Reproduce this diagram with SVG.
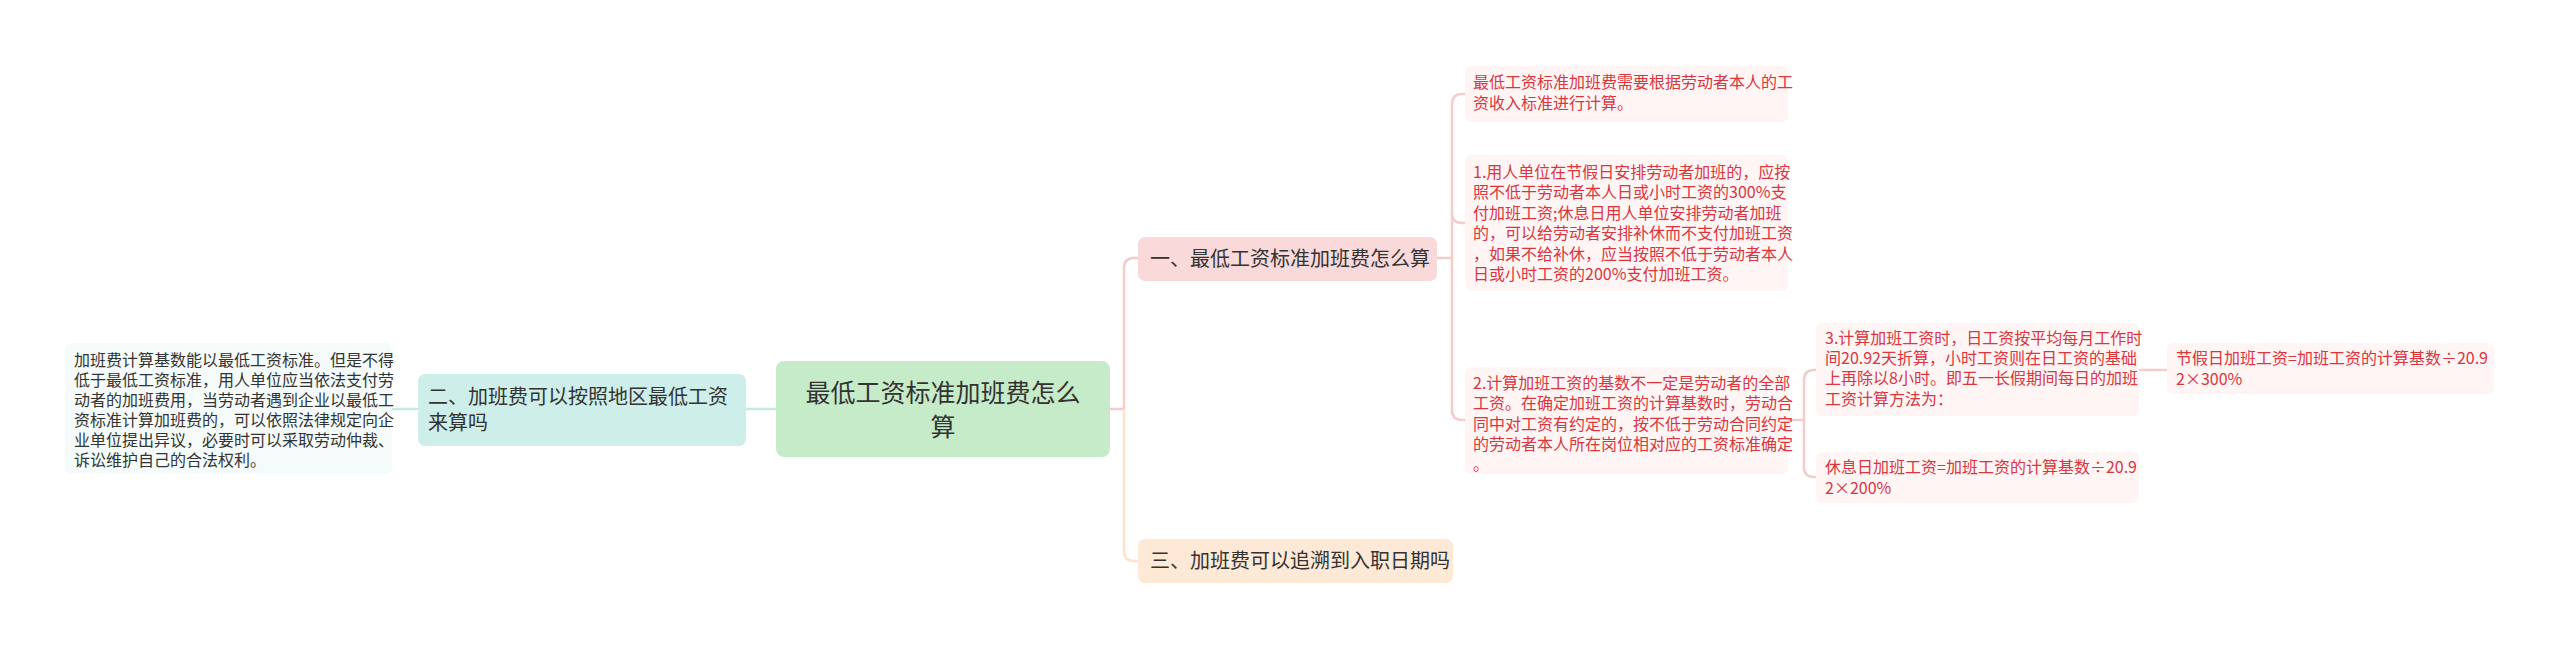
<svg xmlns="http://www.w3.org/2000/svg" width="2560" height="650" viewBox="0 0 2560 650">
<style>
text{font-family:"Noto Sans CJK SC","Liberation Sans",sans-serif;}
.r{fill:#d9363e;font-size:16px;}
.k{fill:#333;font-size:16px;}
.c{fill:none;stroke-width:2.5;}
</style>
<rect width="2560" height="650" fill="#fff"/>
<g id="connectors">
<path class="c" stroke="#f5cccc" d="M1110 409 H1124 V268 Q1124 258 1134 258 H1138"/>
<path class="c" stroke="#fde2cc" d="M1124 409 V551 Q1124 561 1134 561 H1138"/>
<path class="c" stroke="#c4ebe3" d="M776 409 H746"/>
<path class="c" stroke="#c4ebe3" d="M418 409 H392"/>
<path class="c" stroke="#f5cccc" d="M1437 258 H1452 M1452 258 V104 Q1452 94 1462 94 H1465 M1452 258 V213 Q1452 223 1462 223 H1465 M1452 258 V410 Q1452 420 1462 420 H1465"/>
<path class="c" stroke="#f5cccc" d="M1788 420 H1804 M1804 420 V380 Q1804 370 1814 370 H1816 M1804 420 V467 Q1804 477 1814 477 H1816"/>
<path class="c" stroke="#f5cccc" d="M2139 370 H2167"/>
</g>
<g id="root">
<rect x="776" y="361" width="334" height="96" rx="8" fill="#c6ebc9"/>
<text x="943" y="402" font-size="25" fill="#333" text-anchor="middle">最低工资标准加班费怎么</text>
<text x="943" y="436" font-size="25" fill="#333" text-anchor="middle">算</text>
</g>
<g id="n2">
<rect x="418" y="374" width="328" height="72" rx="7" fill="#cdeee9"/>
<text x="428" y="404" font-size="20" fill="#333">二、加班费可以按照地区最低工资</text>
<text x="428" y="430" font-size="20" fill="#333">来算吗</text>
</g>
<g id="n2leaf">
<rect x="65" y="343" width="327" height="131" rx="6" fill="#f4fbfa"/>
<text class="k" x="74" y="366">加班费计算基数能以最低工资标准。但是不得</text>
<text class="k" x="74" y="386">低于最低工资标准，用人单位应当依法支付劳</text>
<text class="k" x="74" y="406">动者的加班费用，当劳动者遇到企业以最低工</text>
<text class="k" x="74" y="426">资标准计算加班费的，可以依照法律规定向企</text>
<text class="k" x="74" y="446">业单位提出异议，必要时可以采取劳动仲裁、</text>
<text class="k" x="74" y="466">诉讼维护自己的合法权利。</text>
</g>
<g id="n1">
<rect x="1138" y="237" width="299" height="44" rx="7" fill="#f9d9d9"/>
<text x="1150" y="266" font-size="20" fill="#333">一、最低工资标准加班费怎么算</text>
</g>
<g id="n3">
<rect x="1138" y="539" width="315" height="44" rx="7" fill="#fde9d6"/>
<text x="1150" y="568" font-size="20" fill="#333">三、加班费可以追溯到入职日期吗</text>
</g>
<g id="leafA">
<rect x="1465" y="66" width="323" height="56" rx="6" fill="#fff5f5"/>
<text class="r" x="1473" y="88">最低工资标准加班费需要根据劳动者本人的工</text>
<text class="r" x="1473" y="109">资收入标准进行计算。</text>
</g>
<g id="leafB">
<rect x="1465" y="155" width="323" height="136" rx="6" fill="#fff5f5"/>
<text class="r" x="1473" y="178">1.用人单位在节假日安排劳动者加班的，应按</text>
<text class="r" x="1473" y="198">照不低于劳动者本人日或小时工资的300%支</text>
<text class="r" x="1473" y="219">付加班工资;休息日用人单位安排劳动者加班</text>
<text class="r" x="1473" y="239">的，可以给劳动者安排补休而不支付加班工资</text>
<text class="r" x="1473" y="260">，如果不给补休，应当按照不低于劳动者本人</text>
<text class="r" x="1473" y="280">日或小时工资的200%支付加班工资。</text>
</g>
<g id="leafC">
<rect x="1465" y="367" width="323" height="107" rx="6" fill="#fff5f5"/>
<text class="r" x="1473" y="389">2.计算加班工资的基数不一定是劳动者的全部</text>
<text class="r" x="1473" y="409">工资。在确定加班工资的计算基数时，劳动合</text>
<text class="r" x="1473" y="430">同中对工资有约定的，按不低于劳动合同约定</text>
<text class="r" x="1473" y="450">的劳动者本人所在岗位相对应的工资标准确定</text>
<text class="r" x="1473" y="470">。</text>
</g>
<g id="leafD">
<rect x="1816" y="323" width="323" height="93" rx="6" fill="#fff5f5"/>
<text class="r" x="1825" y="344">3.计算加班工资时，日工资按平均每月工作时</text>
<text class="r" x="1825" y="364">间20.92天折算，小时工资则在日工资的基础</text>
<text class="r" x="1825" y="384">上再除以8小时。即五一长假期间每日的加班</text>
<text class="r" x="1825" y="405">工资计算方法为：</text>
</g>
<g id="leafE">
<rect x="1816" y="452" width="323" height="51" rx="6" fill="#fff5f5"/>
<text class="r" x="1825" y="473">休息日加班工资=加班工资的计算基数÷20.9</text>
<text class="r" x="1825" y="494">2×200%</text>
</g>
<g id="leafF">
<rect x="2167" y="343" width="327" height="51" rx="6" fill="#fff5f5"/>
<text class="r" x="2176" y="364">节假日加班工资=加班工资的计算基数÷20.9</text>
<text class="r" x="2176" y="385">2×300%</text>
</g>
</svg>
